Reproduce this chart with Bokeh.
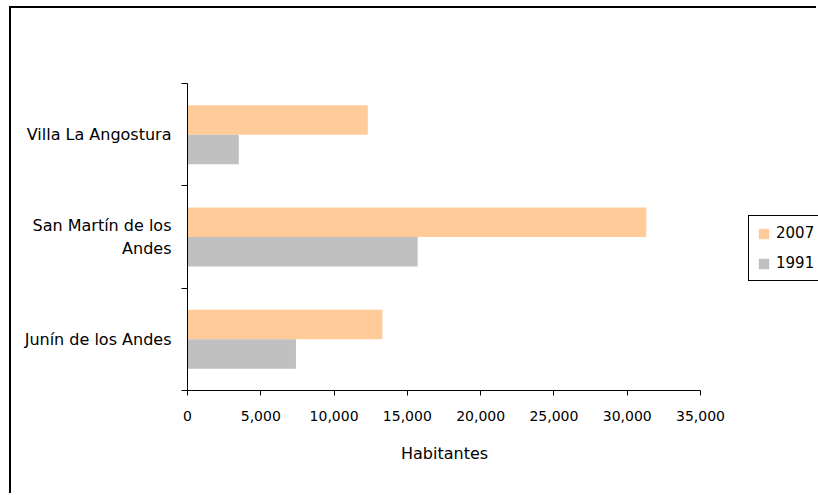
from bokeh.plotting import figure
from bokeh.models import (ColumnDataSource, Range1d, FixedTicker, LinearAxis,
                          NumeralTickFormatter, Legend, LegendItem, Title)
from bokeh.transform import dodge
from bokeh.embed import file_html
from bokeh.resources import INLINE

# Towns listed bottom to top, population per census year
towns = ["Junín de los Andes", "San Martín de los Andes", "Villa La Angostura"]
pop_2007 = [13300, 31300, 12300]
pop_1991 = [7400, 15700, 3500]
x_ticks = [0, 5000, 10000, 15000, 20000, 25000, 30000, 35000]

FONT = "DejaVu Sans"
INK = "black"

# canvas layout (pixels)
W, H = 807, 487
LEFT, TOP, BOTTOM = 176, 75, 105
AXIS_W = 513                      # drawn length of the x axis, 0 .. 35,000
x_max = x_ticks[-1]
x_end = x_max * (W - LEFT) / AXIS_W   # frame runs to the right edge; legend sits there

pos = [i + 0.5 for i in range(len(towns))]
src = ColumnDataSource(dict(y=pos, v2007=pop_2007, v1991=pop_1991))

p = figure(width=W, height=H, output_backend="svg", toolbar_location=None,
           x_range=Range1d(0, x_end), y_range=Range1d(0, len(towns)),
           min_border_left=LEFT, min_border_right=0,
           min_border_top=TOP, min_border_bottom=BOTTOM)
# chart border (top and left edges visible)
p.styles = {"margin-left": "9px", "margin-top": "6px",
            "border-top": "2px solid black", "border-left": "2px solid black"}
p.outline_line_color = None
p.xgrid.visible = False
p.ygrid.visible = False
p.background_fill_color = "white"
p.border_fill_color = "white"

bh = 0.288
r07 = p.hbar(y=dodge("y", bh / 2, range=p.y_range), right="v2007", left=0,
             height=bh, source=src, fill_color="#FFCC99", line_color=None)
r91 = p.hbar(y=dodge("y", -bh / 2, range=p.y_range), right="v1991", left=0,
             height=bh, source=src, fill_color="#C0C0C0", line_color=None)

# x axis
xa = p.xaxis[0]
xa.ticker = FixedTicker(ticks=x_ticks)
xa.bounds = (0, x_max)
xa.formatter = NumeralTickFormatter(format="0,0")
xa.major_label_text_font = FONT
xa.major_label_text_font_size = "14px"
xa.major_label_text_color = INK
xa.major_label_standoff = 15
xa.major_tick_in = 0
xa.major_tick_out = 5
xa.minor_tick_line_color = None
xa.axis_line_color = INK
xa.major_tick_line_color = INK

# x axis title, centred under the drawn axis
xt = Title(text="Habitantes", align="left", offset=AXIS_W / 2 - 43,
           text_font=FONT, text_font_size="16px", text_font_style="normal",
           text_color=INK, standoff=36)
p.add_layout(xt, "below")

# y axis: tick marks at category boundaries only
ya = p.yaxis[0]
ya.ticker = FixedTicker(ticks=list(range(len(towns) + 1)))
ya.major_label_overrides = {i: "" for i in range(len(towns) + 1)}
ya.major_tick_in = 0
ya.major_tick_out = 6
ya.minor_tick_line_color = None
ya.axis_line_color = INK
ya.major_tick_line_color = INK
ya.major_label_standoff = 0

# category names
labels = {p_: t for p_, t in zip(pos, towns)}
labels[pos[1]] = "San Martín de los\nAndes"
la = LinearAxis(ticker=FixedTicker(ticks=pos), major_label_overrides=labels)
la.axis_line_color = None
la.major_tick_line_color = None
la.minor_tick_line_color = None
la.major_label_text_font = FONT
la.major_label_text_font_size = "16px"
la.major_label_text_color = INK
la.major_label_standoff = 4
p.add_layout(la, "left")

legend = Legend(items=[LegendItem(label="2007", renderers=[r07]),
                       LegendItem(label="1991", renderers=[r91])],
                location=(AXIS_W + 48, 109), orientation="vertical")
legend.label_text_font = FONT
legend.label_text_font_size = "15px"
legend.label_text_color = INK
legend.glyph_width = 13
legend.glyph_height = 13
legend.spacing = 12
legend.padding = 8
legend.margin = 0
legend.border_line_color = INK
legend.border_line_alpha = 1
legend.border_line_width = 1
legend.label_standoff = 6
legend.background_fill_alpha = 1
p.add_layout(legend, "center")

open("out.html", "w").write(file_html(p, INLINE))
